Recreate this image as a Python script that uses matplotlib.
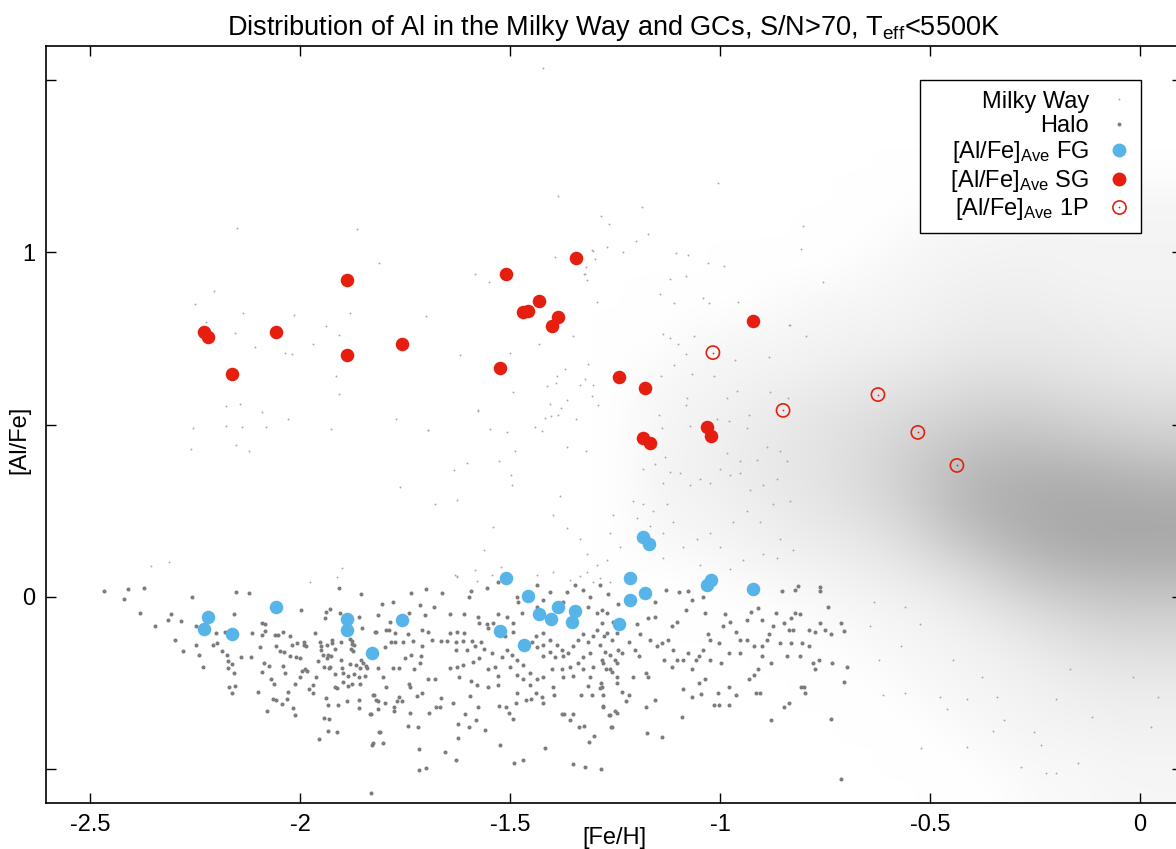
import numpy as np
import matplotlib
matplotlib.use("Agg")
import matplotlib.pyplot as plt
from matplotlib.colors import LinearSegmentedColormap, PowerNorm
from matplotlib.lines import Line2D
from matplotlib.legend_handler import HandlerTuple

plt.rcParams['font.family'] = ['Liberation Sans', 'DejaVu Sans']
plt.rcParams['mathtext.fontset'] = 'custom'
plt.rcParams['mathtext.rm'] = 'Liberation Sans'
plt.rcParams['mathtext.it'] = 'Liberation Sans:italic'

# GC averages
sg_feh = [-2.229, -2.219, -2.162, -2.057, -1.888, -1.888, -1.757, -1.510, -1.524, -1.469, -1.457,
          -1.431, -1.400, -1.386, -1.343, -1.240, -1.179, -1.183, -1.167, -1.031, -1.021, -0.921]
sg_alfe = [0.770, 0.753, 0.648, 0.770, 0.919, 0.701, 0.733, 0.936, 0.663, 0.826, 0.831,
           0.860, 0.785, 0.811, 0.983, 0.637, 0.605, 0.462, 0.445, 0.494, 0.468, 0.802]

fg_feh = [-2.219, -2.229, -2.162, -2.057, -1.888, -1.888, -1.829, -1.757, -1.510, -1.524, -1.457,
          -1.467, -1.431, -1.402, -1.386, -1.352, -1.345, -1.240, -1.214, -1.214, -1.183, -1.169,
          -1.179, -1.031, -1.021, -0.921]
fg_alfe = [-0.058, -0.093, -0.110, -0.029, -0.064, -0.096, -0.163, -0.067, 0.055, -0.099, 0.003,
           -0.140, -0.052, -0.064, -0.029, -0.073, -0.041, -0.081, 0.055, -0.009, 0.174, 0.154,
           0.009, 0.035, 0.047, 0.023]

p1_feh = [-1.017, -0.850, -0.624, -0.529, -0.436]
p1_alfe = [0.709, 0.541, 0.587, 0.477, 0.381]

# halo stars (a sample of the dark grey points)
halo_pts = np.array([
    (-2.467, 0.015), (-2.419, -0.006), (-2.410, 0.023), (-2.371, 0.026), (-2.381, -0.049),
    (-2.345, -0.087), (-2.314, -0.067), (-2.307, -0.052), (-2.283, -0.070), (-2.298, -0.125),
    (-2.279, -0.157), (-2.257, 0.000), (-2.248, -0.087), (-2.248, -0.140), (-2.240, -0.169),
    (-2.231, -0.206), (-2.200, -0.105), (-2.207, -0.140), (-2.198, -0.134), (-2.179, -0.102),
    (-2.186, -0.157), (-2.174, -0.169), (-2.171, -0.186), (-2.162, -0.195), (-2.171, -0.209),
    (-2.157, -0.221), (-2.169, -0.262), (-2.155, -0.259), (-2.162, -0.279), (-2.157, -0.052),
    (-2.152, 0.012), (-2.121, 0.009), (-2.140, -0.177), (-2.114, -0.105), (-2.117, -0.177),
    (-2.095, -0.148), (-2.100, -0.276), (-2.090, -0.076), (-2.083, -0.081), (-2.090, -0.113),
    (-2.083, -0.099), (-2.086, -0.192), (-2.074, -0.201), (-2.090, -0.218), (-2.069, -0.241),
    (-2.062, -0.253), (-2.079, -0.334), (-2.064, -0.299), (-2.057, -0.302), (-2.060, -0.113),
    (-2.052, -0.113), (-2.057, -0.145), (-2.040, -0.102), (-2.048, -0.157), (-2.038, -0.160),
    (-2.040, -0.201), (-2.036, -0.221), (-2.029, -0.276), (-2.031, -0.297), (-2.043, -0.311),
    (-2.017, -0.323), (-2.012, -0.343), (-2.024, -0.116), (-2.019, -0.142), (-2.007, -0.134),
    (-1.998, -0.038), (-2.024, -0.174), (-2.010, -0.177), (-2.000, -0.180), (-2.012, -0.253),
    (-2.000, -0.233), (-1.995, -0.215), (-1.988, -0.212), (-1.983, -0.215), (-1.990, -0.140),
    (-1.986, -0.145), (-1.990, -0.131), (-1.979, -0.270), (-1.969, -0.279), (-1.969, -0.256),
    (-1.964, -0.105), (-1.962, -0.235), (-1.957, -0.186), (-1.955, -0.413), (-1.952, -0.131),
    (-1.950, -0.145), (-1.950, -0.154), (-1.945, -0.169), (-1.943, -0.204), (-1.938, -0.044),
    (-1.940, -0.061), (-1.929, -0.035), (-1.938, -0.294), (-1.933, -0.314), (-1.943, -0.352),
    (-1.931, -0.355), (-1.933, -0.390), (-1.912, -0.395), (-1.936, -0.140), (-1.933, -0.169),
    (-1.926, -0.172), (-1.936, -0.180), (-1.924, -0.125), (-1.924, -0.134), (-1.917, -0.151),
    (-1.931, -0.209), (-1.929, -0.206), (-1.917, -0.224), (-1.917, -0.262), (-1.912, -0.267),
    (-1.910, -0.314), (-1.905, -0.047), (-1.907, 0.026), (-1.902, -0.131), (-1.902, -0.183),
    (-1.900, -0.209), (-1.898, -0.221), (-1.898, -0.247), (-1.888, -0.305), (-1.886, -0.259),
    (-1.886, -0.230), (-1.879, -0.151), (-1.881, -0.122), (-1.876, -0.128), (-1.876, -0.137),
    (-1.874, -0.157), (-1.871, -0.140), (-1.881, -0.195), (-1.876, -0.253), (-1.871, -0.224),
    (-1.860, -0.302), (-1.860, -0.323), (-1.860, -0.235), (-1.855, 0.006), (-1.860, -0.058),
    (-1.852, -0.090), (-1.867, -0.198), (-1.855, -0.183), (-1.850, -0.192), (-1.843, -0.201),
    (-1.857, -0.209), (-1.840, -0.209), (-1.845, -0.230), (-1.857, -0.253), (-1.833, -0.340),
    (-1.824, -0.285), (-1.829, -0.430), (-1.831, -0.570), (-1.819, -0.102), (-1.814, -0.055),
    (-1.819, -0.302), (-1.814, -0.328), (-1.812, -0.395),
    (-1.736, 0.009), (-1.700, 0.023), (-1.662, 0.009), (-1.805, -0.023), (-1.779, -0.015),
    (-1.786, -0.073), (-1.795, -0.096), (-1.788, -0.096), (-1.821, -0.102), (-1.774, -0.105),
    (-1.743, -0.108), (-1.740, -0.049), (-1.714, -0.026), (-1.681, -0.029), (-1.702, -0.055),
    (-1.710, -0.096), (-1.695, -0.102), (-1.783, -0.131), (-1.774, -0.131), (-1.798, -0.148),
    (-1.755, -0.131), (-1.731, -0.128), (-1.710, -0.145), (-1.686, -0.125), (-1.664, -0.128),
    (-1.643, -0.052), (-1.610, -0.052), (-1.598, 0.000), (-1.593, 0.017), (-1.576, -0.058),
    (-1.574, -0.076), (-1.552, -0.090), (-1.569, -0.131), (-1.610, -0.105), (-1.626, -0.102),
    (-1.643, -0.105), (-1.650, -0.128), (-1.629, -0.131), (-1.612, -0.128), (-1.590, -0.128),
    (-1.629, -0.154), (-1.602, -0.154), (-1.583, -0.145), (-1.562, -0.151), (-1.543, -0.163),
    (-1.736, -0.169), (-1.712, -0.172), (-1.714, -0.192), (-1.729, -0.212), (-1.750, -0.180),
    (-1.764, -0.209), (-1.779, -0.209), (-1.814, -0.209), (-1.802, -0.235), (-1.795, -0.262),
    (-1.826, -0.285), (-1.814, -0.305), (-1.798, -0.308), (-1.764, -0.291), (-1.769, -0.305),
    (-1.757, -0.305), (-1.776, -0.320), (-1.776, -0.334), (-1.831, -0.340), (-1.740, -0.253),
    (-1.738, -0.262), (-1.721, -0.288), (-1.710, -0.279), (-1.695, -0.241), (-1.679, -0.241),
    (-1.664, -0.294), (-1.667, -0.320), (-1.676, -0.320), (-1.693, -0.337), (-1.738, -0.337),
    (-1.743, -0.375), (-1.719, -0.378), (-1.810, -0.395), (-1.802, -0.427), (-1.826, -0.427),
    (-1.717, -0.442), (-1.717, -0.503), (-1.700, -0.497), (-1.655, -0.451), (-1.629, -0.474),
    (-1.624, -0.410), (-1.624, -0.369), (-1.636, -0.308), (-1.607, -0.340), (-1.598, -0.378),
    (-1.581, -0.358), (-1.560, -0.387), (-1.643, -0.209), (-1.626, -0.206), (-1.612, -0.198),
    (-1.621, -0.233), (-1.593, -0.244), (-1.579, -0.256), (-1.595, -0.288), (-1.576, -0.320),
    (-1.552, -0.262), (-1.552, -0.212), (-1.588, -0.189), (-1.574, -0.180), (-1.536, -0.204),
    (-1.529, -0.230), (-1.529, -0.256), (-1.526, -0.317), (-1.510, -0.320), (-1.502, -0.337),
    (-1.493, -0.355), (-1.524, -0.430), (-1.490, -0.483), (-1.469, -0.474), (-1.486, -0.308),
    (-1.483, -0.279), (-1.462, -0.302), (-1.450, -0.299), (-1.438, -0.279), (-1.424, -0.291),
    (-1.421, -0.308), (-1.398, -0.262), (-1.395, -0.285), (-1.376, -0.340), (-1.371, -0.340),
    (-1.357, -0.360), (-1.350, -0.340), (-1.336, -0.378), (-1.324, -0.375), (-1.312, -0.422),
    (-1.300, -0.404), (-1.350, -0.488), (-1.321, -0.494), (-1.283, -0.500), (-1.417, -0.439),
    (-1.262, -0.343), (-1.257, -0.378), (-1.279, -0.317), (-1.245, -0.337), (-1.331, -0.285),
    (-1.305, -0.285), (-1.314, -0.259), (-1.283, -0.250), (-1.286, -0.265), (-1.279, -0.285),
    (-1.257, -0.218), (-1.245, -0.192), (-1.245, -0.233),
    (-1.421, -0.105), (-1.438, -0.116), (-1.448, -0.131), (-1.436, -0.148), (-1.421, -0.140),
    (-1.405, -0.125), (-1.388, -0.140), (-1.376, -0.154), (-1.405, -0.160), (-1.421, -0.174),
    (-1.393, -0.177), (-1.374, -0.174), (-1.362, -0.163), (-1.350, -0.145), (-1.338, -0.125),
    (-1.326, -0.110), (-1.314, -0.131), (-1.302, -0.116), (-1.293, -0.096), (-1.281, -0.076),
    (-1.269, -0.105), (-1.257, -0.125), (-1.245, -0.105), (-1.286, -0.140), (-1.274, -0.160),
    (-1.262, -0.169), (-1.310, -0.163), (-1.326, -0.177), (-1.338, -0.192), (-1.357, -0.204),
    (-1.376, -0.212), (-1.400, -0.212), (-1.421, -0.233), (-1.436, -0.241), (-1.452, -0.221),
    (-1.469, -0.198), (-1.483, -0.183), (-1.495, -0.169), (-1.507, -0.154), (-1.519, -0.177),
    (-1.500, -0.204), (-1.483, -0.227), (-1.469, -0.241), (-1.452, -0.256), (-1.374, -0.233),
    (-1.350, -0.230), (-1.326, -0.212), (-1.302, -0.204), (-1.279, -0.192), (-1.262, -0.212),
    (-1.310, -0.233), (-1.243, -0.154), (-1.243, -0.023), (-1.267, 0.006), (-1.286, 0.035),
    (-1.310, 0.000), (-1.326, 0.020), (-1.345, 0.035), (-1.364, 0.012), (-1.405, 0.012),
    (-1.421, -0.009), (-1.436, -0.029), (-1.481, -0.017), (-1.483, 0.000), (-1.471, -0.047),
    (-1.493, -0.076), (-1.507, -0.058), (-1.529, -0.052), (-1.540, -0.076), (-1.555, -0.081),
    (-1.512, -0.116), (-1.493, -0.102), (-1.529, 0.041), (-1.555, 0.026), (-1.436, 0.035),
    (-1.374, -0.017), (-1.314, -0.029), (-1.293, -0.047), (-1.269, -0.047), (-1.255, -0.073),
    (-1.281, -0.038), (-1.276, -0.116), (-1.281, -0.183), (-1.281, -0.262), (-1.279, -0.320),
    (-1.260, -0.378), (-1.264, -0.343), (-1.250, -0.334), (-1.224, -0.305), (-1.233, -0.276),
    (-1.217, -0.285), (-1.245, -0.250), (-1.271, -0.212), (-1.250, -0.183), (-1.233, -0.163),
    (-1.202, -0.154), (-1.193, -0.174), (-1.176, -0.221), (-1.176, -0.320), (-1.171, -0.235),
    (-1.207, -0.233), (-1.155, -0.302), (-1.174, -0.398), (-1.138, -0.407), (-1.090, -0.349),
    (-1.088, -0.270), (-1.067, -0.291), (-1.045, -0.282), (-1.050, -0.250), (-1.036, -0.241),
    (-1.005, -0.279), (-1.002, -0.314), (-0.979, -0.262), (-0.962, -0.285), (-0.931, -0.241),
    (-0.919, -0.227), (-0.910, -0.212), (-0.914, -0.279), (-0.905, -0.279), (-0.879, -0.358),
    (-0.848, -0.320), (-0.836, -0.308), (-0.807, -0.262), (-0.798, -0.279), (-0.779, -0.192),
    (-0.774, -0.212), (-0.764, -0.183), (-0.733, -0.192), (-0.736, -0.355), (-0.712, -0.529),
    (-0.705, -0.247), (-0.698, -0.204), (-0.705, -0.099), (-0.712, -0.078), (-0.736, -0.108),
    (-0.750, -0.096), (-0.762, -0.076), (-0.774, -0.102), (-0.788, -0.096), (-0.810, -0.052),
    (-0.821, -0.047), (-0.831, -0.061), (-0.836, -0.096), (-0.826, -0.096), (-0.848, -0.076),
    (-0.867, -0.047), (-0.874, -0.087), (-0.883, -0.110), (-0.900, -0.067), (-0.888, -0.125),
    (-0.900, -0.145), (-0.919, -0.145), (-0.936, -0.125), (-0.936, -0.067), (-0.926, -0.044),
    (-0.910, -0.032), (-0.852, 0.015), (-0.821, 0.020), (-0.814, 0.032), (-0.762, 0.029),
    (-0.743, -0.029), (-0.762, 0.015), (-0.952, -0.125), (-0.962, -0.102), (-0.976, -0.073),
    (-0.988, -0.052), (-0.993, -0.087), (-1.002, -0.134), (-1.024, -0.125), (-1.029, -0.110),
    (-1.040, -0.154), (-1.050, -0.174), (-1.057, -0.183), (-1.076, -0.163), (-1.088, -0.183),
    (-1.112, -0.154), (-1.124, -0.125), (-1.138, -0.134), (-1.114, -0.087), (-1.102, -0.073),
    (-1.081, -0.038), (-1.067, -0.009), (-1.036, -0.047), (-1.040, 0.000), (-1.076, 0.015),
    (-1.098, 0.012), (-1.129, 0.020), (-1.155, -0.017), (-1.155, -0.058), (-1.171, -0.061),
    (-1.198, -0.081), (-1.190, -0.110), (-1.217, -0.131), (-1.167, -0.125), (-1.150, -0.145),
    (-1.133, -0.183), (-1.114, -0.204), (-1.102, -0.183), (-1.067, -0.212), (-1.024, -0.183),
    (-0.998, -0.192), (-0.979, -0.163), (-0.952, -0.163), (-0.900, -0.174), (-0.879, -0.192),
    (-0.840, -0.174), (-0.831, -0.134), (-0.805, -0.134), (-0.788, -0.145), (-0.857, -0.134),
    (-0.810, -0.174), (-1.014, -0.314), (-0.979, -0.314), (-0.800, -0.262),
])
halo_feh, halo_alfe = halo_pts[:, 0], halo_pts[:, 1]

# Milky Way disc: point density (percent of area inked) on a 0.1 x 0.1 grid,
# x centres -1.25 ... 0.05, rows from y = 1.25 (top) down to y = -0.55
mw_x_edges = (-1.3, 0.1)
mw_y_edges = (-0.6, 1.3)
mw_density = np.array([
    [0, 0, 0, 0, 0, 0, 0, 0, 0, 0, 0, 0, 0, 0],
    [0, 0, 0, 0, 0, 0, 0, 0, 1, 1, 2, 2, 2, 2],
    [0, 0, 0, 0, 0, 0, 0, 1, 2, 2, 3, 3, 3, 3],
    [0, 0, 0, 0, 0, 0, 1, 2, 3, 4, 4, 3, 3, 3],
    [0, 0, 0, 0, 1, 2, 2, 3, 5, 6, 6, 5, 4, 4],
    [0, 0, 1, 2, 2, 3, 4, 5, 7, 9, 9, 8, 7, 6],
    [0, 1, 2, 3, 4, 6, 8, 10, 14, 16, 15, 13, 11, 10],
    [0, 2, 3, 5, 8, 11, 15, 20, 25, 30, 30, 25, 22, 20],
    [0, 2, 4, 7, 10, 14, 20, 30, 40, 50, 50, 45, 40, 35],
    [0, 3, 4, 7, 10, 14, 22, 35, 55, 70, 75, 75, 70, 65],
    [0, 2, 3, 5, 8, 12, 18, 30, 55, 75, 85, 90, 90, 88],
    [0, 1, 2, 3, 5, 7, 10, 18, 35, 55, 75, 85, 90, 90],
    [0, 0, 0, 1, 2, 3, 5, 8, 15, 28, 45, 55, 60, 60],
    [0, 0, 0, 0, 0, 1, 2, 3, 6, 12, 20, 28, 35, 35],
    [0, 0, 0, 0, 0, 0, 1, 2, 3, 5, 9, 14, 18, 18],
    [0, 0, 0, 0, 0, 0, 0, 1, 2, 3, 5, 7, 9, 9],
    [0, 0, 0, 0, 0, 0, 0, 0, 1, 2, 3, 4, 5, 5],
    [0, 0, 0, 0, 0, 0, 0, 0, 0, 1, 2, 2, 3, 3],
    [0, 0, 0, 0, 0, 0, 0, 0, 0, 0, 1, 1, 2, 2],
])

# Milky Way stars outside the dense disc
mw_sparse = np.array([
    (-1.421, 1.535), (-1.386, 1.163), (-2.150, 1.070), (-1.864, 1.067), (-1.812, 0.968),
    (-2.205, 0.887), (-1.583, 0.936), (-1.550, 0.913), (-1.393, 0.988), (-1.305, 1.006),
    (-1.321, 0.936), (-1.317, 0.919), (-2.250, 0.849), (-2.224, 0.797), (-2.136, 0.823),
    (-2.155, 0.765), (-2.107, 0.724), (-2.014, 0.817), (-2.036, 0.709), (-2.019, 0.706),
    (-1.969, 0.733), (-1.938, 0.785), (-1.907, 0.759), (-1.881, 0.823), (-1.914, 0.642),
    (-1.907, 0.590), (-2.176, 0.555), (-2.143, 0.561), (-2.090, 0.535), (-2.029, 0.515),
    (-2.081, 0.494), (-2.138, 0.494), (-2.176, 0.497), (-2.255, 0.491), (-2.260, 0.430),
    (-2.152, 0.439), (-2.121, 0.424), (-1.926, 0.488), (-1.771, 0.515), (-1.695, 0.483),
    (-1.700, 0.814), (-1.619, 0.701), (-1.500, 0.709), (-1.431, 0.735), (-1.350, 0.756),
    (-1.576, 0.538), (-1.548, 0.488), (-1.507, 0.477), (-1.488, 0.424), (-1.493, 0.593),
    (-1.440, 0.494), (-1.424, 0.480), (-1.417, 0.520), (-1.402, 0.526), (-1.386, 0.529),
    (-1.405, 0.561), (-1.379, 0.549), (-1.364, 0.570), (-1.412, 0.613), (-1.390, 0.622),
    (-1.388, 0.640), (-1.369, 0.660), (-1.333, 0.616), (-1.321, 0.631), (-1.302, 0.616),
    (-1.314, 0.677), (-1.305, 0.584), (-1.290, 0.558), (-1.343, 0.515), (-1.364, 0.436),
    (-1.319, 0.422), (-1.319, 0.959), (-1.324, 0.936), (-1.302, 1.003), (-1.298, 0.980),
    (-1.293, 0.855), (-1.005, 1.203), (-1.186, 1.131), (-1.283, 1.105), (-1.264, 1.084),
    (-1.171, 1.055), (-1.200, 1.032), (-1.105, 0.997), (-1.076, 0.994), (-1.029, 0.968),
    (-0.990, 0.962), (-1.269, 1.015), (-1.231, 1.000), (-1.119, 0.924), (-1.081, 0.933),
    (-1.143, 0.878), (-1.110, 0.852), (-1.040, 0.869), (-1.026, 0.852), (-0.957, 0.855),
    (-0.833, 0.788), (-0.883, 0.695), (-0.838, 0.578), (-0.881, 0.593), (-0.964, 0.686),
    (-1.062, 0.756), (-1.136, 0.762), (-1.119, 0.750), (-1.100, 0.735), (-1.081, 0.706),
    (-1.014, 0.642), (-0.960, 0.596), (-0.931, 0.529), (-0.936, 0.491), (-0.979, 0.509),
    (-0.983, 0.576), (-1.007, 0.517), (-1.079, 0.576), (-1.081, 0.558), (-1.071, 0.497),
    (-1.067, 0.648), (-1.110, 0.672), (-1.140, 0.642), (-1.145, 0.529), (-1.138, 0.491),
    (-1.131, 0.407), (-1.155, 0.384), (-1.119, 0.363), (-1.136, 0.331), (-1.095, 0.358),
    (-1.071, 0.323), (-1.048, 0.343), (-1.024, 0.331), (-1.000, 0.372), (-0.976, 0.352),
    (-0.952, 0.358), (-0.929, 0.311), (-0.898, 0.323), (-0.864, 0.343), (-0.840, 0.395),
    (-0.857, 0.424), (-0.888, 0.436), (-0.912, 0.398), (-0.952, 0.395), (-0.983, 0.416),
    (-1.183, 0.372), (-1.207, 0.279), (-1.183, 0.270), (-1.160, 0.250), (-1.126, 0.270),
    (-1.112, 0.218), (-1.136, 0.186), (-1.167, 0.206), (-1.198, 0.227), (-1.255, 0.238),
    (-1.262, 0.186), (-1.238, 0.145), (-1.269, 0.105), (-1.293, 0.093), (-1.317, 0.125),
    (-1.333, 0.166), (-1.364, 0.198), (-1.381, 0.291), (-1.398, 0.238), (-1.088, 0.145),
    (-1.055, 0.166), (-1.024, 0.186), (-1.000, 0.145), (-0.969, 0.218), (-0.936, 0.250),
    (-0.905, 0.218), (-0.874, 0.270), (-0.833, 0.279), (-0.857, 0.166), (-0.898, 0.125),
    (-0.945, 0.105), (-0.976, 0.081), (-1.048, 0.093), (-1.136, 0.113), (-1.333, 0.061),
    (-1.302, 0.041), (-0.864, 0.113), (-0.826, 0.134), (-1.762, 0.317), (-1.679, 0.270),
    (-1.633, 0.369), (-1.602, 0.387), (-1.626, 0.282), (-1.526, 0.395), (-1.498, 0.352),
    (-1.495, 0.323), (-1.540, 0.201), (-1.562, 0.134), (-1.626, 0.061), (-1.695, 0.485),
    (-1.576, 0.541), (-0.643, -0.087), (-0.612, -0.285), (-0.560, -0.279), (-0.521, -0.439),
    (-0.476, -0.291), (-0.460, -0.326), (-0.412, -0.299), (-0.376, -0.233), (-0.350, -0.392),
    (-0.324, -0.358), (-0.283, -0.494), (-0.236, -0.430), (-0.200, -0.512), (-0.224, -0.512),
    (-0.148, -0.483), (-0.114, -0.349), (-0.017, -0.233), (0.026, -0.378), (0.043, -0.291),
    (-0.412, -0.436), (-0.569, -0.145), (-0.621, -0.183), (-0.633, -0.017), (-0.560, -0.029),
    (-0.524, -0.081), (-0.445, -0.183), (-0.340, -0.291), (-0.200, -0.299), (-0.167, -0.212),
    (-0.252, -0.395), (-2.355, 0.090), (-2.312, 0.099), (-1.976, 0.041), (-1.912, 0.058),
    (-1.900, 0.084), (-1.631, 0.064), (-1.583, 0.078), (-1.521, 0.087), (-1.626, 0.058),
    (-1.579, 0.044), (-1.543, 0.064), (-1.436, 0.064), (-1.398, 0.070), (-1.357, 0.049),
    (-1.317, 0.070), (-1.286, 0.055), (-1.262, 0.041), (-0.802, 1.077), (-0.807, 1.009),
    (-0.755, 0.913), (-0.836, 0.788), (-0.795, 0.756),
])
mw_feh, mw_alfe = mw_sparse[:, 0], mw_sparse[:, 1]

xticks = [-2.5, -2, -1.5, -1, -0.5, 0]
xticklabels = ['-2.5', '-2', '-1.5', '-1', '-0.5', '0']
yticks = [-0.5, 0, 0.5, 1, 1.5]
yticklabels = ['', '0', '', '1', '']

mw_color = '#a6a6a6'
halo_color = '#7c7c7c'
fg_color = '#56b4e9'
sg_color = '#e51e10'

W, H = 1176, 849
fig = plt.figure(figsize=(W / 100, H / 100), dpi=100)
# the original is cropped on the right: the frame ends just past x = 0.1
ax = fig.add_axes([46 / W, 46 / H, (1182 - 46) / W, (803 - 46) / H])
ax.set_xlim(-2.605, 0.1)
ax.set_ylim(-0.6, 1.6)

cmap = LinearSegmentedColormap.from_list('mw', ['#ffffff', mw_color])
ax.imshow(mw_density, cmap=cmap, norm=PowerNorm(0.6, vmin=0, vmax=95), origin='upper',
          extent=(mw_x_edges[0], mw_x_edges[1], mw_y_edges[0], mw_y_edges[1]),
          interpolation='bicubic', interpolation_stage='rgba', aspect='auto', zorder=1)
ax.scatter(mw_feh, mw_alfe, s=1.8, color=mw_color, linewidths=0, zorder=2)
ax.scatter(halo_feh, halo_alfe, s=8.5, color=halo_color, linewidths=0, zorder=3)
ax.scatter(fg_feh, fg_alfe, s=95, color=fg_color, linewidths=0, zorder=4)
ax.scatter(sg_feh, sg_alfe, s=95, color=sg_color, linewidths=0, zorder=5)
ax.scatter(p1_feh, p1_alfe, s=90, facecolors='none', edgecolors=sg_color, linewidths=1.2, zorder=6)
ax.scatter(p1_feh, p1_alfe, s=1.5, color=sg_color, linewidths=0, zorder=6)

ax.set_xticks(xticks)
ax.set_xticklabels(xticklabels)
ax.set_yticks(yticks)
ax.set_yticklabels(yticklabels)
ax.tick_params(direction='in', length=7.5, width=1.0, labelsize=17,
               top=True, right=True, pad=8)
for sp in ax.spines.values():
    sp.set_linewidth(1.2)

ax.set_title(r'Distribution of Al in the Milky Way and GCs, S/N>70, T$_{\mathrm{eff}}$<5500K',
             fontsize=19.5, pad=8)
ax.set_xlabel('[Fe/H]', fontsize=17)
ax.xaxis.label.set_va('center')
ax.xaxis.set_label_coords(0.5, -0.046)
ax.set_ylabel('[Al/Fe]', fontsize=17)
ax.yaxis.label.set_va('center')
ax.yaxis.set_label_coords(-0.023, 0.48)

h_mw = Line2D([], [], ls='none', marker='o', ms=1.3, mew=0, color=mw_color)
h_halo = Line2D([], [], ls='none', marker='o', ms=2.8, mew=0, color=halo_color)
h_fg = Line2D([], [], ls='none', marker='o', ms=10, mew=0, color=fg_color)
h_sg = Line2D([], [], ls='none', marker='o', ms=10, mew=0, color=sg_color)
h_p1a = Line2D([], [], ls='none', marker='o', ms=9.5, mfc='none', mec=sg_color, mew=1.2)
h_p1b = Line2D([], [], ls='none', marker='o', ms=1.3, mew=0, color=sg_color)
leg = ax.legend([h_mw, h_halo, h_fg, h_sg, (h_p1a, h_p1b)],
                ['Milky Way', 'Halo', r'[Al/Fe]$_{\mathrm{Ave}}$ FG',
                 r'   [Al/Fe]$_{\mathrm{Ave}}$ SG', r'[Al/Fe]$_{\mathrm{Ave}}$ 1P'],
                handler_map={tuple: HandlerTuple(ndivide=1, pad=0)},
                loc='upper right', bbox_to_anchor=(0.964, 0.955), borderaxespad=0,
                markerfirst=False, fontsize=17, frameon=True, fancybox=False,
                handlelength=1.0, handletextpad=0.75, labelspacing=0.1,
                borderpad=0.45, framealpha=1)
leg.get_frame().set_edgecolor('black')
leg.get_frame().set_linewidth(1.0)
leg.set_zorder(10)

fig.savefig('out.png', dpi=100)
